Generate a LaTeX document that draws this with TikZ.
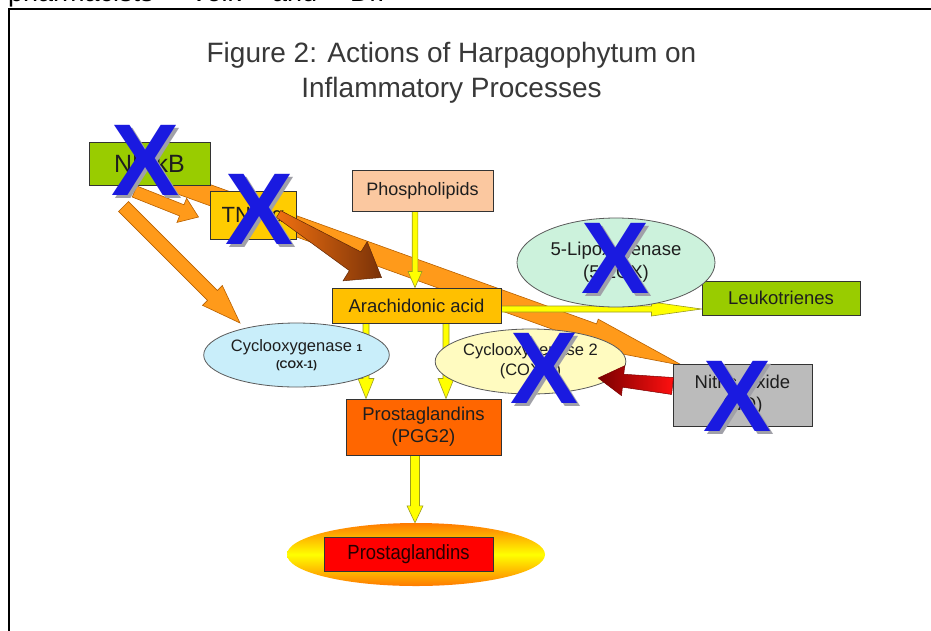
\documentclass[tikz,border=0pt]{standalone}
\usepackage{fontspec}
\setmainfont{Liberation Sans}
\usetikzlibrary{calc,shapes.geometric}
\pgfdeclarelayer{bg}
\pgfdeclarelayer{fg}
\pgfsetlayers{bg,main,fg}
\definecolor{txt}{HTML}{1E1E1E}
\definecolor{titlec}{HTML}{383838}
\definecolor{boxline}{HTML}{333333}
\definecolor{ovalline}{HTML}{5A5A5A}
\definecolor{kgreen}{HTML}{99CC00}
\definecolor{tnfc}{HTML}{FFCC00}
\definecolor{phosc}{HTML}{FBC8A0}
\definecolor{arachc}{HTML}{FFC000}
\definecolor{loxc}{HTML}{CCF2DC}
\definecolor{cox1c}{HTML}{C9EEFA}
\definecolor{cox2c}{HTML}{FFFBC0}
\definecolor{noc}{HTML}{BBBBBB}
\definecolor{pggc}{HTML}{FF6600}
\definecolor{redc}{HTML}{FF0000}
\definecolor{glowo}{HTML}{FF7A00}
\definecolor{glowy}{HTML}{FFFF00}
\definecolor{yfill}{HTML}{FFFF00}
\definecolor{yline}{HTML}{9A9A20}
\definecolor{ofill}{HTML}{FF9A1A}
\definecolor{oline}{HTML}{B86000}
\definecolor{brA}{HTML}{F07010}
\definecolor{brB}{HTML}{7A3208}
\definecolor{rdA}{HTML}{7A0000}
\definecolor{rdB}{HTML}{FF1010}
\definecolor{xblue}{HTML}{1A1AE0}
\definecolor{xshadow}{HTML}{A0A0A8}
\newcommand{\fsz}[2]{\fontsize{#1}{#2}\selectfont}
\newcommand{\bigx}{\fontsize{102}{102}\selectfont\bfseries}
% block arrow: from, to, tail half width, shaft half width at head, head half width, head length, style
\newcommand{\blockarr}[7]{%
 \coordinate (ba-h) at ($(#2)!#6!(#1)$);
 \path[#7] ($(#1)!#3!90:(#2)$) -- ($(ba-h)!#4!-90:(#1)$) -- ($(ba-h)!#5!-90:(#1)$) -- (#2) -- ($(ba-h)!#5!90:(#1)$) -- ($(ba-h)!#4!90:(#1)$) -- ($(#1)!#3!-90:(#2)$) -- cycle;}
\newcommand{\xmark}[3]{%
 \node[xsh] (#1s) at (#2+3,#3+3) {X};
 \node[xm] (#1) at (#2,#3) {X};}
\tikzset{
 box/.style={draw=boxline, line width=1pt, inner sep=0pt, align=center, text=txt},
 oval/.style={ellipse, draw=ovalline, line width=0.8pt, inner sep=0pt, align=center, text=txt},
 yarr/.style={fill=yfill, draw=yline, line width=0.6pt},
 oarr/.style={fill=ofill, draw=oline, line width=0.6pt},
 xm/.style={text=xblue, inner sep=0pt, font=\bigx},
 xsh/.style={text=xshadow, inner sep=0pt, font=\bigx},
 toptext/.style={anchor=base west, inner sep=0pt, font=\fsz{27}{30}, text=black},
}
\begin{document}
\begin{tikzpicture}[x=1pt,y=-1pt]
\useasboundingbox (0,0) rectangle (931,630);
\begin{pgfonlayer}{bg}
\fill[white] (0,0) rectangle (931,630);
\end{pgfonlayer}
% cut-off text line at the very top
\node[toptext] (w1) at (8,1.5) {pharmacists};
\node[toptext] (w2) at (190,1.5) {Volk};
\node[toptext] (w3) at (272,1.5) {and};
\node[toptext] (w4) at (350,1.5) {Dr.};
% frame
\draw[line width=2pt, black] (9,631) -- (9,8.5) -- (932,8.5);
% title
\node[anchor=base, inner sep=0pt, font=\fsz{28}{32}, text=titlec] (title1) at (451.5,62) {Figure 2: Actions of Harpagophytum on};
\node[anchor=base, inner sep=0pt, font=\fsz{28}{32}, text=titlec] (title2) at (451.5,97) {Inflammatory Processes};

% boxes
\node[box, fill=kgreen, minimum width=121pt, minimum height=43pt, font=\fsz{25}{28}] (nfkb) at (149.5,163.5) {NF-κB};
\node[box, fill=tnfc, minimum width=86pt, minimum height=48pt, font=\fsz{22}{25}] (tnf) at (253,215) {TNF-α};
\node[box, fill=phosc, minimum width=141pt, minimum height=41pt, font=\fsz{18}{22}] (phos) at (422.5,190.5) {Phospholipids};
\node[box, fill=arachc, minimum width=169pt, minimum height=35pt, font=\fsz{18.5}{22}] (arach) at (416.5,305.5) {Arachidonic acid};
\node[box, fill=kgreen, minimum width=158pt, minimum height=34pt, font=\fsz{18.5}{22}] (leuk) at (781,298) {Leukotrienes};
\node[box, fill=noc, minimum width=139pt, minimum height=62pt, font=\fsz{18.5}{22}] (no) at (742.5,395) {Nitric Oxide\\(NO)};
\node[box, fill=pggc, minimum width=155pt, minimum height=56pt, font=\fsz{18.5}{22}] (pgg) at (423.5,427) {Prostaglandins\\(PGG2)};
% ellipses
\node[oval, fill=loxc, minimum width=198pt, minimum height=89pt, font=\fsz{18.5}{23}] (lox) at (616,262.5) {5-Lipoxygenase\\(5-LOX)};
\node[oval, fill=cox1c, minimum width=175pt, minimum height=64pt, font=\fsz{16.5}{17}] (cox1) at (296.5,355) {Cyclooxygenase {\bfseries\fsz{10}{12}1}\\{\bfseries\fsz{11}{13}(COX-1)}};
\node[oval, fill=cox2c, minimum width=185pt, minimum height=65pt, font=\fsz{16.5}{20}] (cox2) at (530.5,361.5) {Cyclooxygenase 2\\(COX-2)};
% final product
\node[ellipse, inner sep=0pt, minimum width=258pt, minimum height=63pt, top color=glowo, bottom color=glowo, middle color=glowy] (glow) at (416,554.5) {};
\node[box, fill=redc, minimum width=169pt, minimum height=34pt, font=\fsz{20.5}{24}, text=black!85!red] (final) at (408.5,554) {\scalebox{0.9}[1]{Prostaglandins}};

% connector end points
\coordinate (o1a) at ($(nfkb.center)+(20,17)$);
\coordinate (o1b) at ($(no.north west)+(10,2)$);
\coordinate (o2a) at ($(nfkb.south)+(-15,6)$);
\coordinate (o2b) at ($(tnf.west)+(-11,2)$);
\coordinate (o3a) at ($(nfkb.south)+(-26,21)$);
\coordinate (o3b) at ($(cox1.center)+(-56.5,-32)$);
\coordinate (y1a) at ($(phos.south)+(-7.5,0)$);
\coordinate (y1b) at ($(arach.north)+(-1.5,0)$);
\coordinate (y2a) at ($(arach.east)+(0,3.5)$);
\coordinate (y2b) at ($(leuk.west)+(0,11)$);
\coordinate (y3a) at ($(arach.south)+(-50.5,0)$);
\coordinate (y3b) at ($(pgg.north)+(-57.5,0)$);
\coordinate (y4a) at ($(arach.south)+(29.5,0)$);
\coordinate (y4b) at ($(pgg.north)+(22.5,0)$);
\coordinate (y5a) at ($(pgg.south)+(-8.5,0)$);
\coordinate (y5b) at ($(glow.north)+(-1,0)$);
\coordinate (b1a) at ($(tnf.east)+(-18,-1)$);
\coordinate (b1b) at ($(arach.north west)+(50,-10)$);
\coordinate (r1a) at ($(no.west)+(0,-9)$);
\coordinate (r1b) at ($(cox2.east)+(-28,16.5)$);

\begin{pgfonlayer}{bg}
\blockarr{o1a}{o1b}{10pt}{10pt}{15pt}{95pt}{oarr}
\blockarr{o2a}{o2b}{6pt}{6pt}{13pt}{18pt}{oarr}
\blockarr{o3a}{o3b}{7pt}{7pt}{14pt}{39pt}{oarr}
\blockarr{y1a}{y1b}{2.8pt}{2.8pt}{7pt}{16pt}{yarr}
\blockarr{y2a}{y2b}{3pt}{3pt}{7pt}{50pt}{yarr}
\blockarr{y3a}{y3b}{3pt}{3pt}{8pt}{20pt}{yarr}
\blockarr{y4a}{y4b}{3pt}{3pt}{8pt}{20pt}{yarr}
\blockarr{y5a}{y5b}{4.5pt}{4.5pt}{8pt}{17pt}{yarr}
\end{pgfonlayer}

\begin{pgfonlayer}{fg}
\blockarr{b1a}{b1b}{4pt}{11pt}{23pt}{31pt}{left color=brA, right color=brB, draw=brB!80!black, line width=0.5pt}
\blockarr{r1a}{r1b}{8.5pt}{6.5pt}{15pt}{25pt}{left color=rdA, right color=rdB, draw=rdA, line width=0.5pt}
\xmark{xa}{146}{160.5}
\xmark{xb}{260}{209.5}
\xmark{xc}{616}{258}
\xmark{xd}{545}{368.5}
\xmark{xe}{738}{396.5}
\end{pgfonlayer}
\end{tikzpicture}
\end{document}
